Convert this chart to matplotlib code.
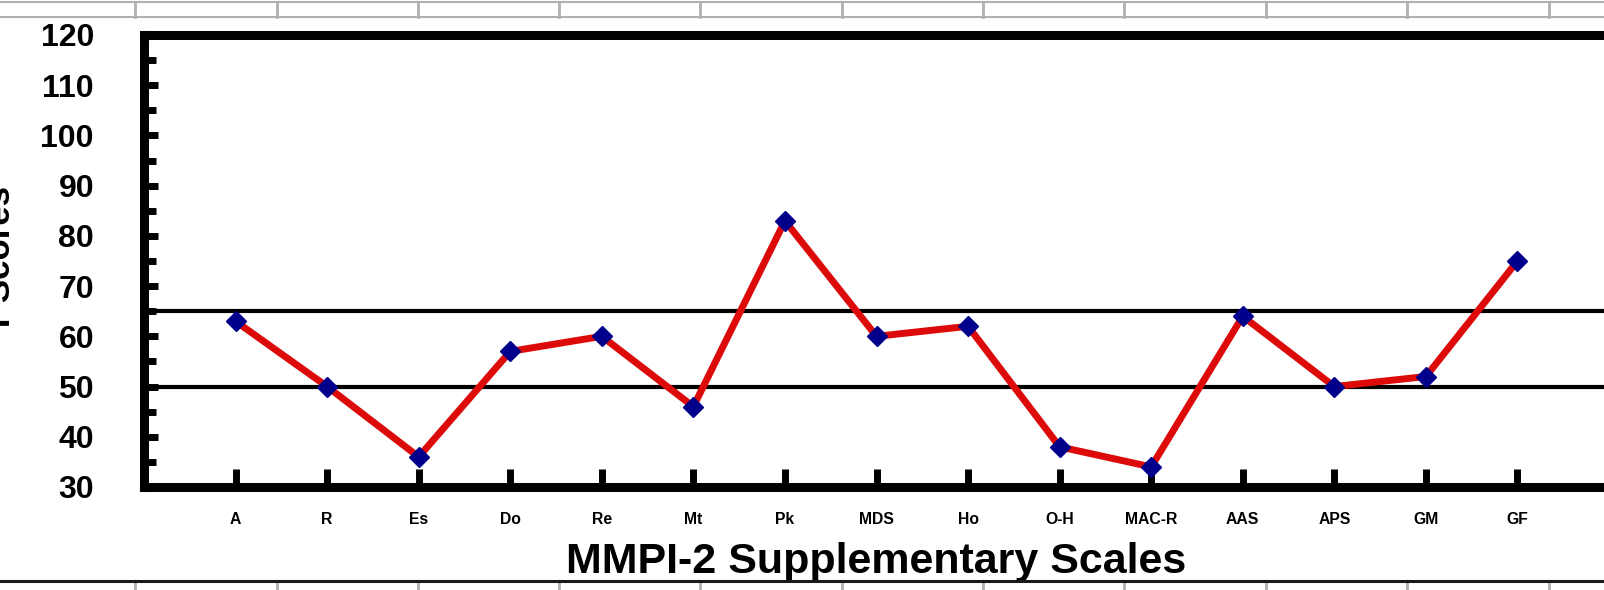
#!/usr/bin/env python3

import numpy as np
import matplotlib.pyplot as plt
from matplotlib.lines import Line2D
from matplotlib.ticker import MultipleLocator

# MMPI-2 supplementary scale T scores
scales = ['A', 'R', 'Es', 'Do', 'Re', 'Mt', 'Pk', 'MDS', 'Ho', 'O-H',
          'MAC-R', 'AAS', 'APS', 'GM', 'GF']
t_scores = [63, 50, 36, 57, 60, 46, 83, 60, 62, 38, 34, 64, 50, 52, 75]
ref_lines = [50, 65]

plt.rcParams['font.family'] = ['Liberation Sans', 'DejaVu Sans']
plt.rcParams['font.weight'] = 'bold'

W, H = 1604, 590
fig = plt.figure(figsize=(W / 100, H / 100), dpi=100)

##
# spreadsheet cell borders behind the chart
##
cell_x = [135, 277, 418, 559, 700, 842, 983, 1124, 1266, 1407, 1549]
for yy in (2, 17):
    fig.add_artist(Line2D([0, 1], [1 - yy / H, 1 - yy / H], color='#b0b0b0', lw=1.5))
for xx in cell_x:
    fig.add_artist(Line2D([xx / W, xx / W], [1 - 2 / H, 1 - 17 / H], color='#b0b0b0', lw=2))
    fig.add_artist(Line2D([xx / W, xx / W], [0, 1 - 583 / H], color='#b0b0b0', lw=2))
fig.add_artist(Line2D([0, 1], [1 - 581 / H, 1 - 581 / H], color='#1a1a1a', lw=2.2))

##
# chart area
##
left, right, top, bottom = 144, 1609, 35, 487
ax = fig.add_axes([left / W, 1 - bottom / H, (right - left) / W, (bottom - top) / H])

x = np.arange(1, len(scales) + 1)
for r in ref_lines:
    ax.axhline(r, color='black', lw=3, zorder=1)
ax.plot(x, t_scores, color='#dd0a0a', lw=5, zorder=2, solid_capstyle='round')
ax.plot(x, t_scores, 'D', color='#00008b', markersize=10, zorder=3)

ax.set_xlim(0, len(scales) + 1)
ax.set_ylim(30, 120)
ax.set_xticks(x)
ax.set_xticklabels(scales, fontsize=11.3, fontweight='bold')
ax.yaxis.set_major_locator(MultipleLocator(10))
ax.yaxis.set_minor_locator(MultipleLocator(5))
ax.tick_params(axis='y', which='major', direction='in', length=10, width=5,
               labelsize=23, pad=36)
ax.tick_params(axis='y', which='minor', direction='in', length=8.5, width=5)
ax.tick_params(axis='x', which='major', direction='in', length=13, width=5, pad=18)
for lab in ax.get_yticklabels():
    lab.set_fontweight('bold')

for s in ('top', 'left', 'bottom', 'right'):
    ax.spines[s].set_linewidth(6.5)
ax.spines['right'].set_visible(False)

ax.set_xlabel('MMPI-2 Supplementary Scales', fontsize=31, fontweight='bold', labelpad=11)
fig.text(17 / W, 1 - 259 / H, 'T Scores', rotation=90, ha='right', va='center',
         fontsize=25, fontweight='bold')

fig.savefig('out.png', dpi=100)
